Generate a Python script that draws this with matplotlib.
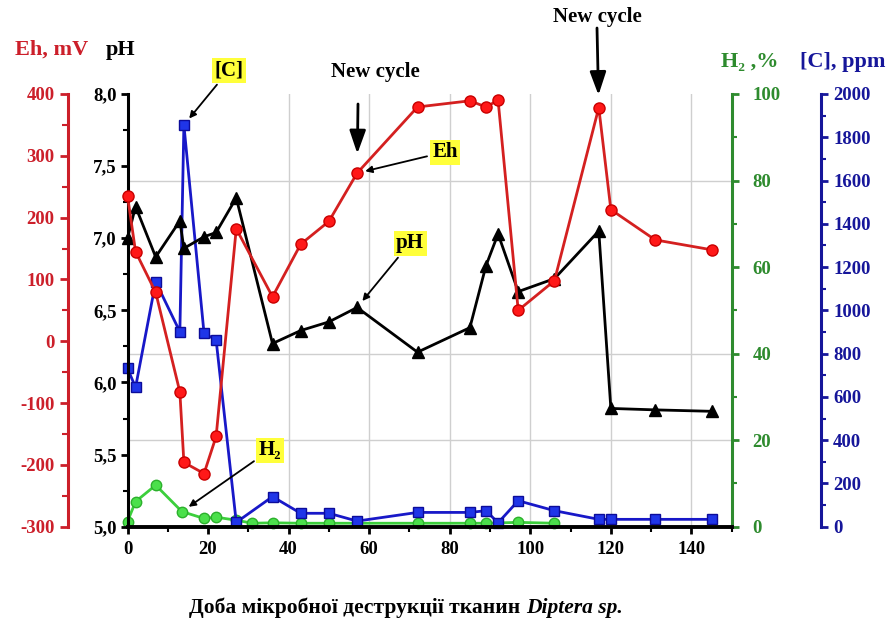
import matplotlib
matplotlib.use('Agg')
import matplotlib.pyplot as plt
from matplotlib.ticker import MultipleLocator, FuncFormatter

plt.rcParams['font.family'] = ['Liberation Serif', 'DejaVu Serif']
plt.rcParams['font.weight'] = 'bold'
plt.rcParams['axes.unicode_minus'] = False

# доба деструкції
days = [0, 2, 7, 13, 14, 19, 22, 27, 36, 43, 50, 57, 72, 85, 89, 92, 97, 106, 117, 120, 131, 145]
# Eh, mV
eh = [235, 145, 79, -82, -196, -214, -154, 182, 72, 157, 194, 272, 379, 389, 379, 390, 50, 98, 378, 213, 164, 148]
# pH
ph = [7.0, 7.22, 6.87, 7.12, 6.93, 7.01, 7.04, 7.28, 6.27, 6.36, 6.42, 6.52, 6.21, 6.38, 6.81, 7.03, 6.63, 6.72,
      7.05, 5.82, 5.81, 5.80]
# [C], ppm
conc = [732, 644, 1132, 901, 1857, 894, 863, 20, 139, 62, 62, 26, 66, 66, 74, 18, 120, 74, 34, 34, 34, 34]
# H2, %
h2_days = [0, 2, 7, 13.5, 19, 22, 27, 31, 36, 43, 50, 72, 85, 89, 97, 106]
h2 = [1.2, 5.8, 9.6, 3.5, 1.9, 2.2, 1.5, 0.8, 0.9, 0.8, 0.8, 0.8, 0.8, 0.8, 1.0, 0.8]

W, H = 896, 627


def fp(x, y):
    # пікселі картинки -> частки фігури
    return (x / W, 1 - y / H)


RED = '#cc1f2a'
GREEN = '#2e8b2e'
BLUE = '#16169a'
TS = 13.5  # розмір підписів поділок

fig = plt.figure(figsize=(8.96, 6.27), dpi=100)
ax_ph = fig.add_axes([127.5 / W, 1 - 526.7 / H, (731.7 - 127.5) / W, (526.7 - 94) / H])
ax_eh = ax_ph.twinx()
ax_h2 = ax_ph.twinx()
ax_c = ax_ph.twinx()

ax_h2.set_zorder(1)
ax_c.set_zorder(2)
ax_ph.set_zorder(3)
ax_eh.set_zorder(4)
ax_ph.patch.set_visible(False)

for a in (ax_ph, ax_eh, ax_h2, ax_c):
    for s in a.spines.values():
        s.set_visible(False)
        s.set_linewidth(2.2)

ax_ph.set_xlim(0, 150)
ax_ph.set_ylim(5, 8)
ax_eh.set_ylim(-300, 400)
ax_h2.set_ylim(0, 100)
ax_c.set_ylim(0, 2000)

# сітка
for xv in range(40, 150, 20):
    ax_h2.axvline(xv, color='#cfcfcf', lw=1, zorder=0)
for yv in (20, 40, 80):
    ax_h2.axhline(yv, color='#cfcfcf', lw=1, zorder=0)

# pH
ax_ph.spines['left'].set_visible(True)
ax_ph.spines['bottom'].set_visible(True)
ax_ph.spines['bottom'].set_linewidth(2.8)
ax_ph.xaxis.set_major_locator(MultipleLocator(20))
ax_ph.xaxis.set_minor_locator(MultipleLocator(10))
ax_ph.yaxis.set_major_locator(MultipleLocator(0.5))
ax_ph.yaxis.set_minor_locator(MultipleLocator(0.25))
ax_ph.yaxis.set_major_formatter(FuncFormatter(lambda v, p: f'{v:.1f}'.replace('.', ',')))
ax_ph.tick_params(which='major', direction='out', length=5, width=2, labelsize=TS, pad=3)
ax_ph.tick_params(axis='x', which='major', pad=5)
ax_ph.tick_params(which='minor', direction='out', length=3.5, width=1.5)

# Eh
ax_eh.spines['left'].set_visible(True)
ax_eh.spines['left'].set_position(('axes', -0.098))
ax_eh.spines['left'].set_color(RED)
ax_eh.yaxis.set_ticks_position('left')
ax_eh.yaxis.set_label_position('left')
ax_eh.yaxis.set_major_locator(MultipleLocator(100))
ax_eh.yaxis.set_minor_locator(MultipleLocator(50))
ax_eh.tick_params(which='major', direction='out', length=6, width=2, labelsize=TS, colors=RED, pad=4)
ax_eh.tick_params(which='minor', direction='out', length=4, width=1.5, colors=RED)

# H2
ax_h2.spines['right'].set_visible(True)
ax_h2.spines['right'].set_color(GREEN)
ax_h2.yaxis.set_major_locator(MultipleLocator(20))
ax_h2.yaxis.set_minor_locator(MultipleLocator(10))
ax_h2.tick_params(which='major', direction='out', length=5, width=2, labelsize=TS, colors=GREEN, pad=10)
ax_h2.tick_params(which='minor', direction='out', length=3.5, width=1.5, colors=GREEN)

# [C]
ax_c.spines['right'].set_visible(True)
ax_c.spines['right'].set_position(('axes', 1.147))
ax_c.spines['right'].set_color(BLUE)
ax_c.yaxis.set_major_locator(MultipleLocator(200))
ax_c.yaxis.set_minor_locator(MultipleLocator(100))
ax_c.tick_params(which='major', direction='out', length=5, width=2, labelsize=TS, colors=BLUE, pad=4)
ax_c.tick_params(which='minor', direction='out', length=3.5, width=1.5, colors=BLUE)

# криві
ax_h2.plot(h2_days, h2, color='#3ccf3c', lw=2, marker='o', ms=7.5, mfc='#4be04b', mec='#2cb02c',
           clip_on=False, zorder=3)
ax_c.plot(days, conc, color='#1818c8', lw=2, marker='s', ms=7.5, mfc='#1f35e8', mec='#0c0c9a',
          clip_on=False, zorder=3)
ax_ph.plot(days, ph, color='black', lw=2, marker='^', ms=9, mfc='black', mec='black',
           clip_on=False, zorder=3)
ax_eh.plot(days, eh, color='#d42020', lw=2, marker='o', ms=8, mfc='#ff1818', mec='#c80000',
           clip_on=False, zorder=3)

# підписи осей
fig.text(*fp(52, 50), 'Eh, mV', color=RED, fontsize=16, ha='center', va='center')
fig.text(*fp(121, 50), 'pH', color='black', fontsize=16, ha='center', va='center')
fig.text(*fp(750, 62), 'H\u2082 ,%', color=GREEN, fontsize=16, ha='center', va='center')
fig.text(*fp(843, 62), '[C], ppm', color=BLUE, fontsize=16, ha='center', va='center')

# виноски
box = dict(boxstyle='square,pad=0.12', fc='#ffff3a', ec='none')
arr = dict(arrowstyle='-|>', color='black', lw=1.3, mutation_scale=10, shrinkA=2, shrinkB=6)
ax_eh.annotate('[C]', xy=(days[4], conc[4]), xycoords=ax_c.transData, xytext=fp(229, 70),
               textcoords='figure fraction', ha='center', va='center', fontsize=15, bbox=box,
               arrowprops=arr)
ax_eh.annotate('Eh', xy=(days[11], eh[11]), xycoords=ax_eh.transData, xytext=fp(445, 152),
               textcoords='figure fraction', ha='center', va='center', fontsize=15, bbox=box,
               arrowprops=arr)
ax_eh.annotate('pH', xy=(days[11], ph[11]), xycoords=ax_ph.transData, xytext=fp(410, 243),
               textcoords='figure fraction', ha='center', va='center', fontsize=15, bbox=box,
               arrowprops=arr)
ax_eh.annotate('H\u2082', xy=(h2_days[3], h2[3]), xycoords=ax_h2.transData, xytext=fp(270, 450),
               textcoords='figure fraction', ha='center', va='center', fontsize=15, bbox=box,
               arrowprops=arr)

# новий цикл
big = dict(arrowstyle='-|>,head_width=0.35,head_length=1.0', color='black', lw=2,
           mutation_scale=14, shrinkA=0, shrinkB=14)
ax_eh.annotate('', xy=(days[11], eh[11]), xytext=fp(358, 104), textcoords='figure fraction',
               arrowprops=big)
big2 = dict(big, shrinkB=9)
ax_eh.annotate('', xy=(days[18], eh[18]), xytext=fp(597, 28), textcoords='figure fraction',
               arrowprops=big2)
fig.text(*fp(375, 72), 'New cycle', fontsize=15, ha='center', va='center')
fig.text(*fp(597, 17), 'New cycle', fontsize=15, ha='center', va='center')

# підпис осі X
t1 = fig.text(0, 0, 'Доба мікробної деструкції тканин ', fontsize=15.5, va='center')
t2 = fig.text(0, 0, 'Diptera sp.', fontsize=15.5, style='italic', va='center')
r = fig.canvas.get_renderer()
w1 = t1.get_window_extent(r).width
w2 = t2.get_window_extent(r).width
x0 = 406 - (w1 + w2) / 2
t1.set_position(fp(x0, 608))
t2.set_position(fp(x0 + w1, 608))

fig.savefig('out.png', dpi=100, facecolor='white')
